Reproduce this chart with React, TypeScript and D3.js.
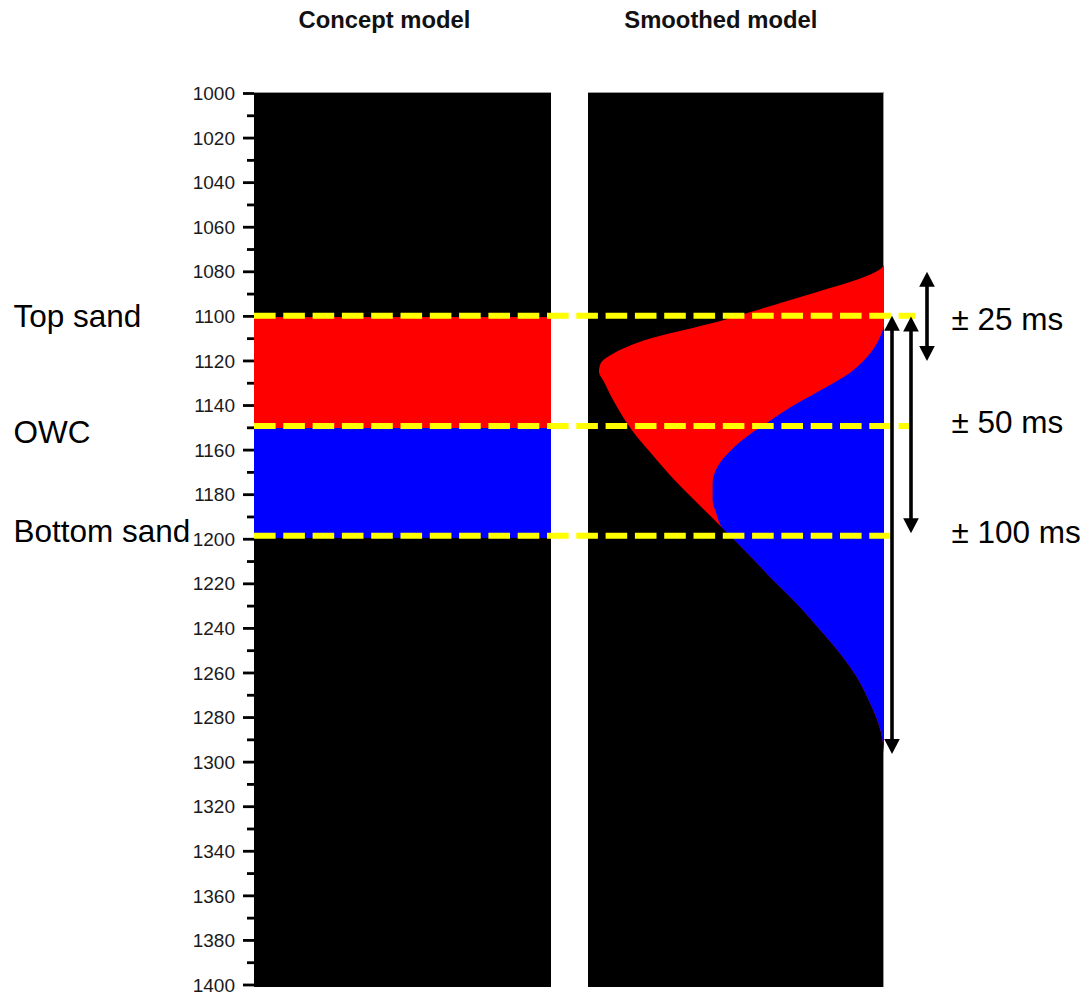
import React from "react";
import * as d3 from "d3";

// ---------- data ----------
const timeDomain = [1000, 1400];
const majorTicks = d3.range(1000, 1401, 20);
const minorTicks = d3.range(1010, 1400, 20);

// concept model layers (ms)
const layerTops = [1100.3, 1150.1];
const layerBases = [1150.1, 1199.4];
const layerColors = ["#ff0000", "#0000ff"];

// horizons (yellow dashed)
const horizonTimes = [1099.7, 1149.2, 1198.4];
const horizonNames = ["Top sand", "OWC", "Bottom sand"];
const horizonLabelTimes = [1104.6, 1156.9, 1201.1];

// smoothed model: outer (red) envelope, amplitude 0..1 across the panel
const outerTime = [1076.8, 1077.7, 1084.4, 1088.9, 1093.4, 1097.9, 1102.4, 1106.1, 1109.8, 1113.6, 1117.3, 1121.0, 1124.8, 1129.3, 1138.3, 1152.4, 1161.4, 1173.4, 1182.4, 1192.8, 1195.8, 1199.5, 1204.8, 1209.3, 1218.3, 1228.7, 1242.2, 1251.1, 1261.6, 1273.6, 1282.5, 1293.0, 1296.0];
const outerAmp = [1.0, 0.996, 0.89, 0.777, 0.664, 0.552, 0.438, 0.325, 0.213, 0.133, 0.077, 0.043, 0.037, 0.054, 0.088, 0.156, 0.213, 0.292, 0.359, 0.438, 0.461, 0.489, 0.528, 0.561, 0.625, 0.704, 0.794, 0.851, 0.907, 0.953, 0.981, 0.998, 1.0];
// smoothed model: inner (blue) boundary until it merges with the envelope
const innerTime = [1104.5, 1106.1, 1115.8, 1124.8, 1133.8, 1139.7, 1146.5, 1152.4, 1159.9, 1167.4, 1174.9, 1182.4, 1188.3, 1195.1];
const innerAmp = [1.0, 0.996, 0.958, 0.89, 0.777, 0.698, 0.619, 0.552, 0.484, 0.438, 0.421, 0.421, 0.433, 0.455];

// smoothing window arrows
const arrowTops = [1080, 1100.1, 1099.7];
const arrowBottoms = [1120, 1197.3, 1296.3];
const arrowLabels = ["± 25 ms", "± 50 ms", "± 100 ms"];
const arrowLabelTimes = [1106.1, 1152.4, 1201.8];

const titles = ["Concept model", "Smoothed model"];

// ---------- layout ----------
const W = 1088;
const H = 995;
const FONT = "'Liberation Sans', Arial, sans-serif";

export default function App() {
  const y = d3.scaleLinear().domain(timeDomain).range([93.5, 985]);
  const leftX0 = 254, leftX1 = 551;
  const rightX0 = 588, rightX1 = 884;
  const xs = d3.scaleLinear().domain([0, 1]).range([rightX0, rightX1]);
  const panelTop = y(timeDomain[0]) - 1.5;
  const panelBottom = y(timeDomain[1]) + 2;

  const outer = outerTime.map((t, i) => ({ t, a: outerAmp[i] }));
  const inner = innerTime.map((t, i) => ({ t, a: innerAmp[i] }));
  const blue = inner.concat(outer.filter((d) => d.t > 1196));

  const area = d3
    .area<{ t: number; a: number }>()
    .y((d) => y(d.t))
    .x0((d) => xs(d.a))
    .x1(() => xs(1))
    .curve(d3.curveMonotoneY);

  const horizonEnds = [915, 910, 890];
  const arrowX = [927, 911, 892];
  const head = 15, half = 7.8;

  return (
    <svg
      width={W}
      height={H}
      style={{ position: "absolute", left: 0, top: 0, background: "#fff" }}
      fontFamily={FONT}
    >
      {/* titles */}
      <text x={384.5} y={28.3} textAnchor="middle" fontWeight="bold" fontSize={23.8} fill="#111">
        {titles[0]}
      </text>
      <text x={720.8} y={28.3} textAnchor="middle" fontWeight="bold" fontSize={23.8} fill="#111">
        {titles[1]}
      </text>

      {/* panels */}
      <rect x={leftX0} y={panelTop} width={leftX1 - leftX0} height={panelBottom - panelTop} fill="#000" />
      <line x1={leftX0} x2={leftX1} y1={panelTop + 0.5} y2={panelTop + 0.5} stroke="#999" />
      <rect x={rightX0} y={panelTop} width={rightX1 - rightX0} height={panelBottom - panelTop} fill="#000" />
      <line x1={rightX0} x2={rightX1} y1={panelTop + 0.5} y2={panelTop + 0.5} stroke="#999" />
      <line x1={rightX1 - 0.5} x2={rightX1 - 0.5} y1={panelTop} y2={panelBottom} stroke="#999" />

      {/* concept layers */}
      {layerTops.map((t, i) => (
        <rect
          key={i}
          x={leftX0}
          y={y(t)}
          width={leftX1 - leftX0}
          height={y(layerBases[i]) - y(t)}
          fill={layerColors[i]}
        />
      ))}

      {/* smoothed model */}
      <path d={area(outer) || ""} fill="#ff0000" />
      <path d={area(blue) || ""} fill="#0000ff" />

      {/* axis ticks */}
      {majorTicks.map((t) => (
        <g key={"M" + t}>
          <line x1={243} x2={leftX0} y1={y(t)} y2={y(t)} stroke="#000" strokeWidth={2.8} />
          <text x={235} y={y(t)} dy="0.35em" textAnchor="end" fontSize={19} fill="#1a1a1a">
            {t}
          </text>
        </g>
      ))}
      {minorTicks.map((t) => (
        <line key={"m" + t} x1={247} x2={leftX0} y1={y(t)} y2={y(t)} stroke="#000" strokeWidth={2.8} />
      ))}

      {/* horizons */}
      {horizonTimes.map((t, i) => (
        <line
          key={"h" + i}
          x1={leftX0}
          x2={horizonEnds[i]}
          y1={y(t)}
          y2={y(t)}
          stroke="#ffff00"
          strokeWidth={6}
          strokeDasharray="21.6 7.7"
        />
      ))}
      {horizonNames.map((n, i) => (
        <text key={"hn" + i} x={13.5} y={y(horizonLabelTimes[i])} fontSize={31.5} fill="#000">
          {n}
        </text>
      ))}

      {/* arrows */}
      {arrowTops.map((t, i) => {
        const x = arrowX[i];
        const yt = y(t);
        const yb = y(arrowBottoms[i]);
        return (
          <g key={"a" + i}>
            <line x1={x} x2={x} y1={yt + head - 1} y2={yb - head + 1} stroke="#000" strokeWidth={3.6} />
            <path d={`M${x},${yt}L${x - half},${yt + head}L${x + half},${yt + head}Z`} fill="#000" />
            <path d={`M${x},${yb}L${x - half},${yb - head}L${x + half},${yb - head}Z`} fill="#000" />
          </g>
        );
      })}
      {arrowLabels.map((l, i) => (
        <text key={"al" + i} x={951.5} y={y(arrowLabelTimes[i])} fontSize={31.5} fill="#000">
          {l}
        </text>
      ))}
    </svg>
  );
}
